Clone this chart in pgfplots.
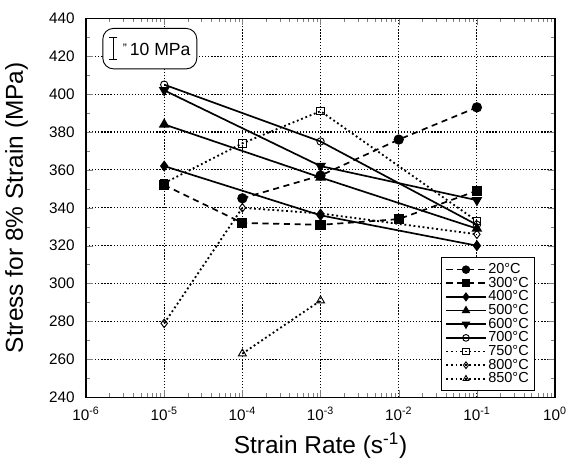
\documentclass[border=0pt]{standalone}
\usepackage{fontspec}
\setmainfont{Liberation Sans}
\usepackage{pgfplots}
\pgfplotsset{compat=1.18}

\begin{document}
\begin{tikzpicture}
\begin{axis}[
    scale only axis,
    width=307pt, height=248pt,
    xmode=log,
    xmin=1e-6, xmax=1,
    ymin=240, ymax=440,
    xtick={1e-6,1e-5,1e-4,1e-3,1e-2,1e-1,1},
    xticklabels={10\textsuperscript{-6},10\textsuperscript{-5},10\textsuperscript{-4},10\textsuperscript{-3},10\textsuperscript{-2},10\textsuperscript{-1},10\textsuperscript{0}},
    ytick={240,260,...,440},
    minor y tick num=1,
    tick align=inside,
    major tick length=4.5pt,
    minor tick length=2.5pt,
    /pgf/number format/assume math mode=true,
    ticklabel style={font=\fontsize{10}{12}\selectfont},
    xticklabel style={yshift=-3pt},
    yticklabel style={xshift=-4pt},
    xlabel={Strain Rate (s\textsuperscript{-1})},
    ylabel={Stress for 8\% Strain (MPa)},
    label style={font=\fontsize{16}{19}\selectfont},
    xlabel style={yshift=-1pt},
    ylabel style={yshift=7pt},
    xmajorgrids, ymajorgrids,
    major grid style={dash pattern=on 0.8pt off 1.2pt, line width=0.7pt, black},
    axis line style={line width=0.8pt},
    legend style={
        at={(0.957,0.016)}, anchor=south east,
        font=\fontsize{9.5}{9.5}\selectfont,
        draw=black, line width=0.6pt,
        row sep=-1.6pt, inner sep=2.5pt,
        nodes={inner sep=1.2pt},
        cells={anchor=west},
    },
    legend image code/.code={
        \draw[mark repeat=2, mark phase=2, mark size=2.2pt] plot coordinates {(0cm,0cm) (0.45cm,0cm) (0.9cm,0cm)};
    },
    every axis plot/.append style={black, line width=1.1pt},
]
% 20 C
\addplot[dash pattern=on 4pt off 3pt, mark=*, mark size=2.8pt, mark options={solid}]
  coordinates {(1e-4,345) (1e-3,357) (1e-2,376) (1e-1,393)};
% 300 C
\addplot[dash pattern=on 4pt off 3pt, mark=square*, mark size=2.8pt, mark options={solid}]
  coordinates {(1e-5,352) (1e-4,332) (1e-3,331) (1e-2,334) (1e-1,349)};
% 400 C
\addplot[solid, mark=diamond*, mark size=2.8pt]
  coordinates {(1e-5,362) (1e-3,336) (1e-1,320)};
% 500 C
\addplot[solid, mark=triangle*, mark size=3pt]
  coordinates {(1e-5,384) (1e-3,356) (1e-1,329)};
% 600 C
\addplot[solid, mark=triangle*, mark size=3pt, mark options={rotate=180}]
  coordinates {(1e-5,402) (1e-3,362) (1e-1,344)};
% 700 C
\addplot[solid, mark=o, mark size=2.4pt, mark options={fill=white, line width=0.6pt}]
  coordinates {(1e-5,405) (1e-3,375) (1e-1,331)};
% 750 C
\addplot[dash pattern=on 1.2pt off 1.8pt, line width=1.2pt, mark=square, mark size=2.4pt, mark options={solid, fill=white, line width=0.6pt}]
  coordinates {(1e-5,353) (1e-4,374) (1e-3,391) (1e-1,333)};
% 800 C
\addplot[dash pattern=on 1.2pt off 1.8pt, line width=1.2pt, mark=diamond, mark size=2.8pt, mark options={solid, fill=white, line width=0.6pt}]
  coordinates {(1e-5,279) (1e-4,340) (1e-3,337) (1e-1,326)};
% 850 C
\addplot[dash pattern=on 1.2pt off 1.8pt, line width=1.2pt, mark=triangle, mark size=3pt, mark options={solid, fill=white, line width=0.6pt}]
  coordinates {(1e-4,263) (1e-3,291)};
\legend{20°C,300°C,400°C,500°C,600°C,700°C,750°C,800°C,850°C}

% scale box
\node[draw, rounded corners=7pt, line width=0.6pt, fill=white,
      minimum width=61.5pt, minimum height=26.5pt, anchor=center]
  at (axis description cs:0.136,0.920) {};
\draw[line width=0.6pt] (axis description cs:0.058,0.949) -- (axis description cs:0.058,0.891);
\draw[line width=0.6pt] (axis description cs:0.050,0.949) -- (axis description cs:0.066,0.949);
\draw[line width=0.6pt] (axis description cs:0.050,0.891) -- (axis description cs:0.066,0.891);
\node[anchor=west, font=\fontsize{11.5}{13}\selectfont, inner sep=0pt]
  at (axis description cs:0.078,0.917) {\raisebox{2pt}{\fontsize{8}{8}\selectfont''}\,10 MPa};
\end{axis}
% top margin as in the reference
\path (current axis.north) ++(0,12pt);
\end{tikzpicture}
\end{document}
